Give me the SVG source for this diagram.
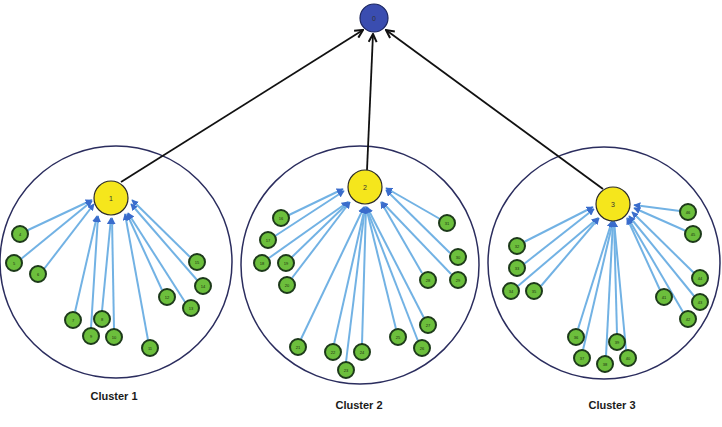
<svg xmlns="http://www.w3.org/2000/svg" width="722" height="427" viewBox="0 0 722 427">
<style>
.cl{fill:none;stroke:#2b2d5e;stroke-width:1.5}
.g{fill:#6cbf3c;stroke:#1d3a1a;stroke-width:2}
.h{fill:#f5e61c;stroke:#2b2b2b;stroke-width:1.2}
.r{fill:#3a4db0;stroke:#1c2660;stroke-width:1.2}
.b{stroke:#72b2e4;stroke-width:2;fill:none}
.k{stroke:#111;stroke-width:1.8;fill:none}
.t{font-family:"Liberation Sans",Arial,sans-serif;font-size:4px;fill:#1a2a10;text-anchor:middle}
.th{font-family:"Liberation Sans",Arial,sans-serif;font-size:7px;fill:#333;text-anchor:middle}
.lb{font-family:"Liberation Sans",Arial,sans-serif;font-size:11px;font-weight:bold;fill:#1a1a1a;text-anchor:middle}
</style>
<defs>
<marker id="ab" viewBox="0 0 10 10" refX="9" refY="5" markerWidth="7" markerHeight="7" markerUnits="userSpaceOnUse" orient="auto">
<path d="M0,0 L10,5 L0,10 z" fill="#3a6ccc"/>
</marker>
<marker id="ak" viewBox="0 0 10 10" refX="9" refY="5" markerWidth="10" markerHeight="10" markerUnits="userSpaceOnUse" orient="auto">
<path d="M1,1 L9,5 L1,9" fill="none" stroke="#111" stroke-width="2"/>
</marker>
</defs>
<g id="clusters">
<circle class="cl" cx="116" cy="262" r="116"/>
<circle class="cl" cx="360" cy="265" r="119"/>
<circle class="cl" cx="604" cy="263" r="116"/>
</g>
<g id="connectors">
<line class="k" x1="121" y1="182" x2="363" y2="30" marker-end="url(#ak)"/>
<line class="k" x1="367" y1="170" x2="373" y2="34" marker-end="url(#ak)"/>
<line class="k" x1="603" y1="189" x2="386" y2="30" marker-end="url(#ak)"/>
<g marker-end="url(#ab)">
<line class="b" x1="26" y1="231" x2="92" y2="200"/>
<line class="b" x1="21" y1="259" x2="92" y2="201"/>
<line class="b" x1="44" y1="269" x2="94" y2="204"/>
<line class="b" x1="75" y1="312" x2="97" y2="216"/>
<line class="b" x1="91" y1="328" x2="98" y2="216"/>
<line class="b" x1="102" y1="311" x2="111" y2="218"/>
<line class="b" x1="114" y1="329" x2="112" y2="218"/>
<line class="b" x1="148" y1="340" x2="125" y2="214"/>
<line class="b" x1="162" y1="290" x2="127" y2="214"/>
<line class="b" x1="185" y1="302" x2="128" y2="213"/>
<line class="b" x1="197" y1="280" x2="131" y2="204"/>
<line class="b" x1="190" y1="257" x2="132" y2="200"/>

<line class="b" x1="289" y1="215" x2="343" y2="189"/>
<line class="b" x1="275" y1="236" x2="344" y2="191"/>
<line class="b" x1="269" y1="258" x2="348" y2="202"/>
<line class="b" x1="292" y1="257" x2="349" y2="202"/>
<line class="b" x1="292" y1="278" x2="350" y2="202"/>
<line class="b" x1="301" y1="339" x2="364" y2="207"/>
<line class="b" x1="334" y1="344" x2="365" y2="207"/>
<line class="b" x1="362" y1="344" x2="366" y2="207"/>
<line class="b" x1="346" y1="362" x2="365" y2="207"/>
<line class="b" x1="396" y1="329" x2="366" y2="207"/>
<line class="b" x1="424" y1="318" x2="367" y2="207"/>
<line class="b" x1="418" y1="341" x2="366" y2="207"/>
<line class="b" x1="422" y1="273" x2="381" y2="202"/>
<line class="b" x1="451" y1="274" x2="382" y2="202"/>
<line class="b" x1="450" y1="253" x2="386" y2="190"/>
<line class="b" x1="440" y1="219" x2="386" y2="188"/>

<line class="b" x1="524" y1="242" x2="593" y2="207"/>
<line class="b" x1="524" y1="264" x2="594" y2="209"/>
<line class="b" x1="518" y1="286" x2="598" y2="218"/>
<line class="b" x1="541" y1="286" x2="599" y2="218"/>
<line class="b" x1="578" y1="329" x2="612" y2="221"/>
<line class="b" x1="583" y1="350" x2="613" y2="221"/>
<line class="b" x1="606" y1="356" x2="613" y2="221"/>
<line class="b" x1="617" y1="334" x2="614" y2="221"/>
<line class="b" x1="626" y1="350" x2="614" y2="221"/>
<line class="b" x1="660" y1="290" x2="627" y2="218"/>
<line class="b" x1="683" y1="312" x2="628" y2="218"/>
<line class="b" x1="694" y1="296" x2="629" y2="216"/>
<line class="b" x1="694" y1="273" x2="632" y2="212"/>
<line class="b" x1="686" y1="231" x2="634" y2="208"/>
<line class="b" x1="680" y1="211" x2="634" y2="205"/>
</g>
</g>
<g id="n0"><circle class="r" cx="374" cy="18" r="14"/><text class="th" x="374" y="20.5">0</text></g>
<g id="n1"><circle class="h" cx="111" cy="198" r="17"/><text class="th" x="111" y="200.5">1</text></g>
<g id="n2"><circle class="h" cx="365" cy="187" r="17"/><text class="th" x="365" y="189.5">2</text></g>
<g id="n3"><circle class="h" cx="613" cy="204" r="17"/><text class="th" x="613" y="206.5">3</text></g>
<g id="n4"><circle class="g" cx="20" cy="234" r="8"/><text class="t" x="20" y="235.5">4</text></g>
<g id="n5"><circle class="g" cx="14" cy="263" r="8"/><text class="t" x="14" y="264.5">5</text></g>
<g id="n6"><circle class="g" cx="38" cy="274" r="8"/><text class="t" x="38" y="275.5">6</text></g>
<g id="n7"><circle class="g" cx="73" cy="320" r="8"/><text class="t" x="73" y="321.5">7</text></g>
<g id="n8"><circle class="g" cx="102" cy="319" r="8"/><text class="t" x="102" y="320.5">8</text></g>
<g id="n9"><circle class="g" cx="91" cy="336" r="8"/><text class="t" x="91" y="337.5">9</text></g>
<g id="n10"><circle class="g" cx="114" cy="337" r="8"/><text class="t" x="114" y="338.5">10</text></g>
<g id="n11"><circle class="g" cx="150" cy="348" r="8"/><text class="t" x="150" y="349.5">11</text></g>
<g id="n12"><circle class="g" cx="167" cy="297" r="8"/><text class="t" x="167" y="298.5">12</text></g>
<g id="n13"><circle class="g" cx="191" cy="308" r="8"/><text class="t" x="191" y="309.5">13</text></g>
<g id="n14"><circle class="g" cx="203" cy="286" r="8"/><text class="t" x="203" y="287.5">14</text></g>
<g id="n15"><circle class="g" cx="197" cy="262" r="8"/><text class="t" x="197" y="263.5">15</text></g>
<g id="n16"><circle class="g" cx="281" cy="218" r="8"/><text class="t" x="281" y="219.5">16</text></g>
<g id="n17"><circle class="g" cx="268" cy="240" r="8"/><text class="t" x="268" y="241.5">17</text></g>
<g id="n18"><circle class="g" cx="262" cy="263" r="8"/><text class="t" x="262" y="264.5">18</text></g>
<g id="n19"><circle class="g" cx="286" cy="263" r="8"/><text class="t" x="286" y="264.5">19</text></g>
<g id="n20"><circle class="g" cx="287" cy="285" r="8"/><text class="t" x="287" y="286.5">20</text></g>
<g id="n21"><circle class="g" cx="298" cy="347" r="8"/><text class="t" x="298" y="348.5">21</text></g>
<g id="n22"><circle class="g" cx="333" cy="352" r="8"/><text class="t" x="333" y="353.5">22</text></g>
<g id="n23"><circle class="g" cx="346" cy="370" r="8"/><text class="t" x="346" y="371.5">23</text></g>
<g id="n24"><circle class="g" cx="362" cy="352" r="8"/><text class="t" x="362" y="353.5">24</text></g>
<g id="n25"><circle class="g" cx="398" cy="337" r="8"/><text class="t" x="398" y="338.5">25</text></g>
<g id="n26"><circle class="g" cx="422" cy="348" r="8"/><text class="t" x="422" y="349.5">26</text></g>
<g id="n27"><circle class="g" cx="428" cy="325" r="8"/><text class="t" x="428" y="326.5">27</text></g>
<g id="n28"><circle class="g" cx="428" cy="280" r="8"/><text class="t" x="428" y="281.5">28</text></g>
<g id="n29"><circle class="g" cx="458" cy="280" r="8"/><text class="t" x="458" y="281.5">29</text></g>
<g id="n30"><circle class="g" cx="458" cy="257" r="8"/><text class="t" x="458" y="258.5">30</text></g>
<g id="n31"><circle class="g" cx="447" cy="223" r="8"/><text class="t" x="447" y="224.5">31</text></g>
<g id="n32"><circle class="g" cx="517" cy="246" r="8"/><text class="t" x="517" y="247.5">32</text></g>
<g id="n33"><circle class="g" cx="517" cy="268" r="8"/><text class="t" x="517" y="269.5">33</text></g>
<g id="n34"><circle class="g" cx="511" cy="291" r="8"/><text class="t" x="511" y="292.5">34</text></g>
<g id="n35"><circle class="g" cx="534" cy="291" r="8"/><text class="t" x="534" y="292.5">35</text></g>
<g id="n36"><circle class="g" cx="576" cy="337" r="8"/><text class="t" x="576" y="338.5">36</text></g>
<g id="n37"><circle class="g" cx="582" cy="358" r="8"/><text class="t" x="582" y="359.5">37</text></g>
<g id="n38"><circle class="g" cx="605" cy="364" r="8"/><text class="t" x="605" y="365.5">38</text></g>
<g id="n39"><circle class="g" cx="617" cy="342" r="8"/><text class="t" x="617" y="343.5">39</text></g>
<g id="n40"><circle class="g" cx="628" cy="358" r="8"/><text class="t" x="628" y="359.5">40</text></g>
<g id="n41"><circle class="g" cx="664" cy="297" r="8"/><text class="t" x="664" y="298.5">41</text></g>
<g id="n42"><circle class="g" cx="688" cy="319" r="8"/><text class="t" x="688" y="320.5">42</text></g>
<g id="n43"><circle class="g" cx="700" cy="302" r="8"/><text class="t" x="700" y="303.5">43</text></g>
<g id="n44"><circle class="g" cx="700" cy="278" r="8"/><text class="t" x="700" y="279.5">44</text></g>
<g id="n45"><circle class="g" cx="693" cy="234" r="8"/><text class="t" x="693" y="235.5">45</text></g>
<g id="n46"><circle class="g" cx="688" cy="212" r="8"/><text class="t" x="688" y="213.5">46</text></g>
<g id="labels">
<text class="lb" x="114" y="400">Cluster 1</text>
<text class="lb" x="359" y="409">Cluster 2</text>
<text class="lb" x="612" y="409">Cluster 3</text>
</g>
</svg>
